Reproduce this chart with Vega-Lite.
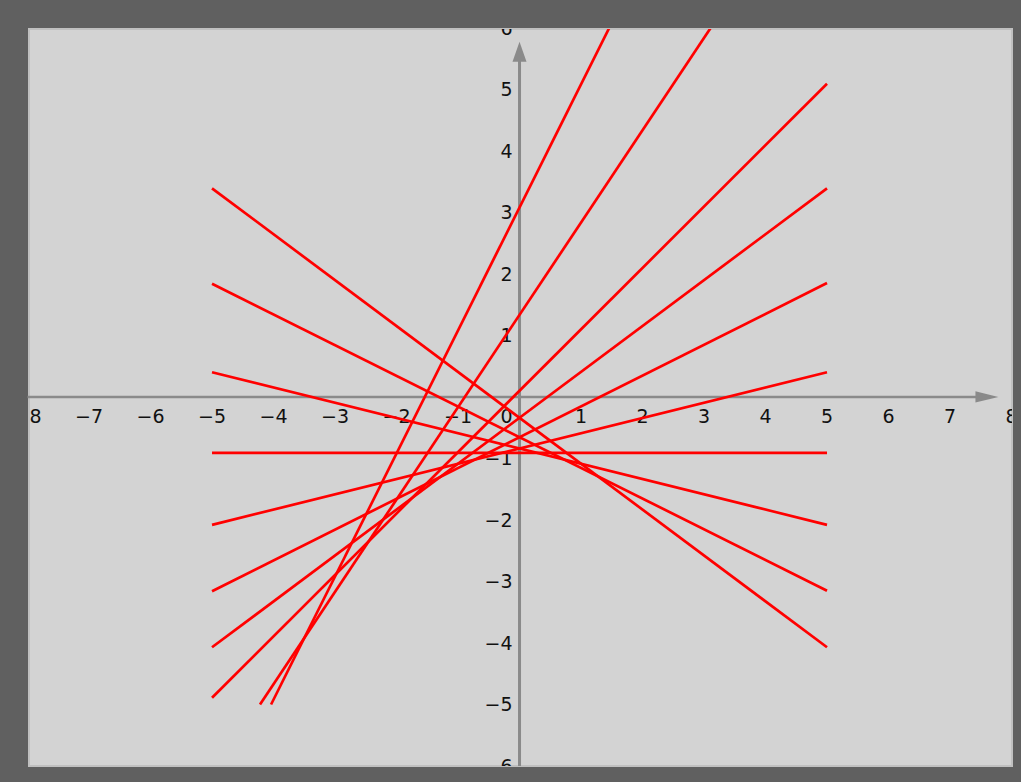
{
  "$schema": "https://vega.github.io/schema/vega-lite/v6.json",
  "width": 983,
  "height": 737,
  "autosize": {"type": "none"},
  "padding": {"left": 29, "top": 29, "right": 9, "bottom": 16},
  "background": "#606060",
  "config": {"view": {"fill": "#d3d3d3", "stroke": "#c0c0c0", "strokeWidth": 2}},
  "data": {"values": [{}]},
  "datasets": {
    "lines": [
      {"id": "m-0.75", "x": -5, "y": 3.39}, {"id": "m-0.75", "x": 5, "y": -4.07},
      {"id": "m-0.5", "x": -5, "y": 1.84}, {"id": "m-0.5", "x": 5, "y": -3.15},
      {"id": "m-0.25", "x": -5, "y": 0.4}, {"id": "m-0.25", "x": 5, "y": -2.08},
      {"id": "m0", "x": -5, "y": -0.91}, {"id": "m0", "x": 5, "y": -0.91},
      {"id": "m0.25", "x": -5, "y": -2.08}, {"id": "m0.25", "x": 5, "y": 0.4},
      {"id": "m0.5", "x": -5, "y": -3.16}, {"id": "m0.5", "x": 5, "y": 1.85},
      {"id": "m0.75", "x": -5, "y": -4.07}, {"id": "m0.75", "x": 5, "y": 3.39},
      {"id": "m1", "x": -5, "y": -4.89}, {"id": "m1", "x": 5, "y": 5.09},
      {"id": "m1.5", "x": -4.22, "y": -5}, {"id": "m1.5", "x": 3.11, "y": 6},
      {"id": "m2", "x": -4.04, "y": -5}, {"id": "m2", "x": 1.46, "y": 6}
    ],
    "xlabels": [
      {"v": -8, "t": "−8"}, {"v": -7, "t": "−7"}, {"v": -6, "t": "−6"}, {"v": -5, "t": "−5"},
      {"v": -4, "t": "−4"}, {"v": -3, "t": "−3"}, {"v": -2, "t": "−2"}, {"v": -1, "t": "−1"},
      {"v": 1, "t": "1"}, {"v": 2, "t": "2"}, {"v": 3, "t": "3"}, {"v": 4, "t": "4"},
      {"v": 5, "t": "5"}, {"v": 6, "t": "6"}, {"v": 7, "t": "7"}, {"v": 8, "t": "8"}
    ],
    "ylabels": [
      {"v": -6, "t": "−6"}, {"v": -5, "t": "−5"}, {"v": -4, "t": "−4"}, {"v": -3, "t": "−3"},
      {"v": -2, "t": "−2"}, {"v": -1, "t": "−1"}, {"v": 1, "t": "1"}, {"v": 2, "t": "2"},
      {"v": 3, "t": "3"}, {"v": 4, "t": "4"}, {"v": 5, "t": "5"}, {"v": 6, "t": "6"}
    ]
  },
  "layer": [
    {
      "mark": {"type": "rule", "color": "#8a8a8a", "strokeWidth": 2.5},
      "encoding": {
        "x": {"datum": -8, "type": "quantitative", "scale": {"domain": [-7.976, 8.008], "nice": false, "zero": false}, "axis": null},
        "x2": {"datum": 7.5},
        "y": {"datum": 0, "type": "quantitative", "scale": {"domain": [-6.0, 5.98], "nice": false, "zero": false}, "axis": null}
      }
    },
    {
      "mark": {"type": "rule", "color": "#8a8a8a", "strokeWidth": 3},
      "encoding": {
        "x": {"datum": 0, "type": "quantitative", "scale": {"domain": [-7.976, 8.008], "nice": false, "zero": false}, "axis": null},
        "y": {"datum": -6, "type": "quantitative", "scale": {"domain": [-6.0, 5.98], "nice": false, "zero": false}, "axis": null},
        "y2": {"datum": 5.5}
      }
    },
    {
      "mark": {"type": "point", "filled": true, "opacity": 1, "color": "#8a8a8a", "shape": "M-1,-0.48L1,0L-1,0.48Z", "size": 529},
      "encoding": {
        "x": {"datum": 7.6, "type": "quantitative", "scale": {"domain": [-7.976, 8.008], "nice": false, "zero": false}, "axis": null},
        "y": {"datum": 0, "type": "quantitative", "scale": {"domain": [-6.0, 5.98], "nice": false, "zero": false}, "axis": null}
      }
    },
    {
      "mark": {"type": "point", "filled": true, "opacity": 1, "color": "#8a8a8a", "shape": "M-0.7,1L0,-1L0.7,1Z", "size": 400},
      "encoding": {
        "x": {"datum": 0, "type": "quantitative", "scale": {"domain": [-7.976, 8.008], "nice": false, "zero": false}, "axis": null},
        "y": {"datum": 5.61, "type": "quantitative", "scale": {"domain": [-6.0, 5.98], "nice": false, "zero": false}, "axis": null}
      }
    },
    {
      "data": {"name": "xlabels"},
      "mark": {"type": "text", "clip": true, "font": "DejaVu Sans", "fontSize": 19, "color": "#111111", "align": "center", "baseline": "middle", "dy": 20},
      "encoding": {
        "x": {"field": "v", "type": "quantitative", "scale": {"domain": [-7.976, 8.008], "nice": false, "zero": false}, "axis": null},
        "y": {"datum": 0, "type": "quantitative", "scale": {"domain": [-6.0, 5.98], "nice": false, "zero": false}, "axis": null},
        "text": {"field": "t"}
      }
    },
    {
      "data": {"name": "ylabels"},
      "mark": {"type": "text", "clip": true, "font": "DejaVu Sans", "fontSize": 19, "color": "#111111", "align": "right", "baseline": "middle", "dx": -7, "dy": 1},
      "encoding": {
        "x": {"datum": 0, "type": "quantitative", "scale": {"domain": [-7.976, 8.008], "nice": false, "zero": false}, "axis": null},
        "y": {"field": "v", "type": "quantitative", "scale": {"domain": [-6.0, 5.98], "nice": false, "zero": false}, "axis": null},
        "text": {"field": "t"}
      }
    },
    {
      "mark": {"type": "text", "font": "DejaVu Sans", "fontSize": 19, "color": "#111111", "align": "right", "baseline": "middle", "dx": -7, "dy": 20, "text": "0"},
      "encoding": {
        "x": {"datum": 0, "type": "quantitative", "scale": {"domain": [-7.976, 8.008], "nice": false, "zero": false}, "axis": null},
        "y": {"datum": 0, "type": "quantitative", "scale": {"domain": [-6.0, 5.98], "nice": false, "zero": false}, "axis": null}
      }
    },
    {
      "data": {"name": "lines"},
      "mark": {"type": "line", "clip": true, "color": "#ff0000", "strokeWidth": 2.7},
      "encoding": {
        "x": {"field": "x", "type": "quantitative", "scale": {"domain": [-7.976, 8.008], "nice": false, "zero": false}, "axis": null},
        "y": {"field": "y", "type": "quantitative", "scale": {"domain": [-6.0, 5.98], "nice": false, "zero": false}, "axis": null},
        "detail": {"field": "id"}
      }
    }
  ]
}
